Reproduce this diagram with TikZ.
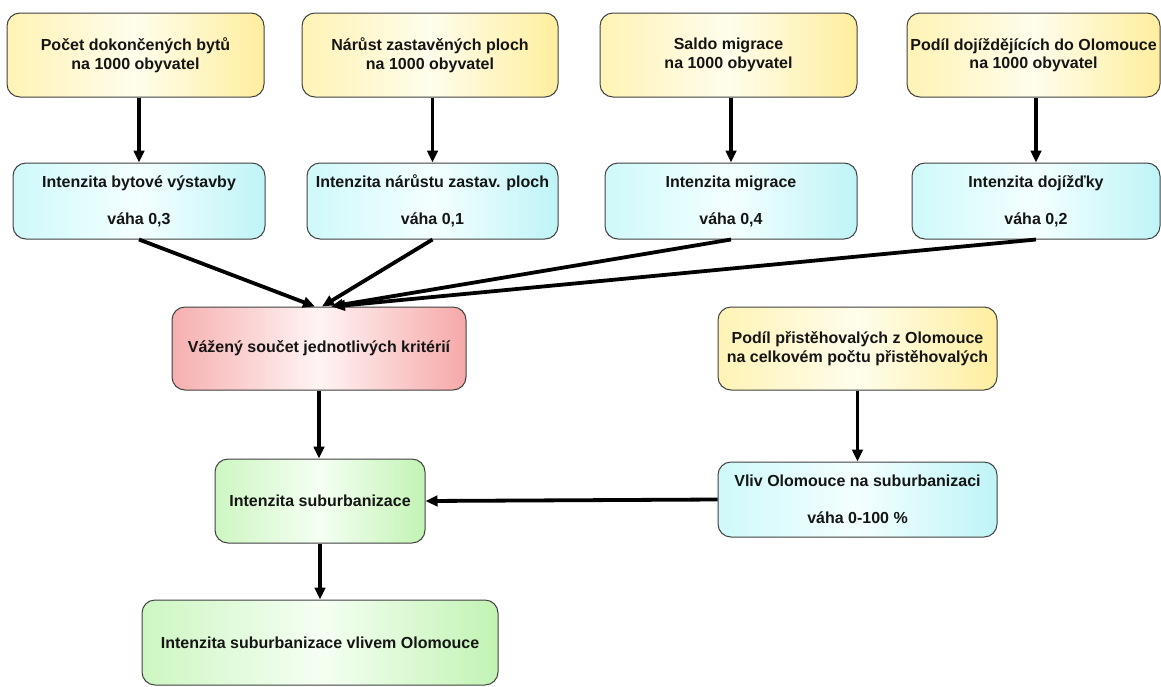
\documentclass[tikz,border=0pt]{standalone}
\usepackage{fontspec}
\setmainfont{Liberation Sans}
\usetikzlibrary{arrows.meta,calc}
\definecolor{yelL}{HTML}{FFF3B5}
\definecolor{yelM}{HTML}{FFFDEC}
\definecolor{yelR}{HTML}{FFEE9E}
\definecolor{cyaL}{HTML}{CFF9FA}
\definecolor{cyaM}{HTML}{F4FFFF}
\definecolor{cyaR}{HTML}{BFF4F7}
\definecolor{redL}{HTML}{F6AFAF}
\definecolor{redM}{HTML}{FFF4F4}
\definecolor{redR}{HTML}{F6A8A8}
\definecolor{grnL}{HTML}{CDF6C2}
\definecolor{grnM}{HTML}{F5FFF3}
\definecolor{grnR}{HTML}{C2F3B4}
\definecolor{bordc}{HTML}{404040}
\definecolor{txtc}{HTML}{151515}
\begin{document}
\begin{tikzpicture}[x=1pt,y=-1pt,
  box/.style={draw=bordc, line width=1pt, rounded corners=13pt, align=center,
    text=txtc, font=\bfseries\fontsize{16}{18.5}\selectfont, inner sep=1pt},
  ybox/.style={box, left color=yelL, right color=yelR, middle color=yelM},
  cbox/.style={box, left color=cyaL, right color=cyaR, middle color=cyaM},
  rbox/.style={box, left color=redL, right color=redR, middle color=redM},
  gbox/.style={box, left color=grnL, right color=grnR, middle color=grnM},
  conn/.style={line width=3.8pt, black, -{Triangle[length=12pt,width=10.5pt]}}
]
\useasboundingbox (0,0) rectangle (1161,686);

% top row (inputs)
\node[ybox, minimum width=257pt, minimum height=84pt] (y1) at (135.5,55) {Počet dokončených bytů\\na 1000 obyvatel};
\node[ybox, minimum width=256pt, minimum height=84pt] (y2) at (430,55) {Nárůst zastavěných ploch\\na 1000 obyvatel};
\node[ybox, minimum width=257pt, minimum height=84pt] (y3) at (728.5,55) {Saldo migrace\\na 1000 obyvatel};
\node[ybox, minimum width=253pt, minimum height=84pt] (y4) at (1033.5,55) {Podíl dojíždějících do Olomouce\\na 1000 obyvatel};

% second row (criteria)
\node[cbox, minimum width=252pt, minimum height=76pt] (c1) at (139,201) {Intenzita bytové výstavby\\[18.5pt]váha 0,3};
\node[cbox, minimum width=251pt, minimum height=76pt] (c2) at (432.5,201) {Intenzita nárůstu zastav. ploch\\[18.5pt]váha 0,1};
\node[cbox, minimum width=252pt, minimum height=76pt] (c3) at (731,201) {Intenzita migrace\\[18.5pt]váha 0,4};
\node[cbox, minimum width=248pt, minimum height=76pt] (c4) at (1036,201) {Intenzita dojížďky\\[18.5pt]váha 0,2};

% weighted sum
\node[rbox, minimum width=294pt, minimum height=83pt] (r) at (319,348.5) {Vážený součet jednotlivých kritérií};

% right branch
\node[ybox, minimum width=279pt, minimum height=83pt] (y5) at (857.5,348.5) {Podíl přistěhovalých z Olomouce\\na celkovém počtu přistěhovalých};
\node[cbox, minimum width=279pt, minimum height=75pt] (c5) at (857.5,499.5) {Vliv Olomouce na suburbanizaci\\[18.5pt]váha 0-100 \%};

% results
\node[gbox, minimum width=210pt, minimum height=84pt] (g1) at (320,501) {Intenzita suburbanizace};
\node[gbox, minimum width=356pt, minimum height=85pt] (g2) at (320,642.5) {Intenzita suburbanizace vlivem Olomouce};

% connectors
\draw[conn] (c1.north |- y1.south) -- (c1.north);
\draw[conn] (c2.north |- y2.south) -- (c2.north);
\draw[conn] (c3.north |- y3.south) -- (c3.north);
\draw[conn] (c4.north |- y4.south) -- (c4.north);

\coordinate (e1) at ($(r.north)+(-4,0)$);
\coordinate (e2) at ($(r.north)+(3,0)$);
\coordinate (e3) at ($(r.north)+(12,0)$);
\coordinate (e4) at ($(r.north)+(14,0)$);
\draw[conn] (c1.south) -- (e1);
\draw[conn] (c2.south) -- (e2);
\draw[conn] (c3.south) -- (e3);
\draw[conn] (c4.south) -- (e4);

\draw[conn] (r.south) -- (r.south |- g1.north);
\draw[conn] (g1.south) -- (g1.south |- g2.north);
\draw[conn] (y5.south) -- (y5.south |- c5.north);
\draw[conn] (c5.west) -- (g1.east);
\end{tikzpicture}
\end{document}
